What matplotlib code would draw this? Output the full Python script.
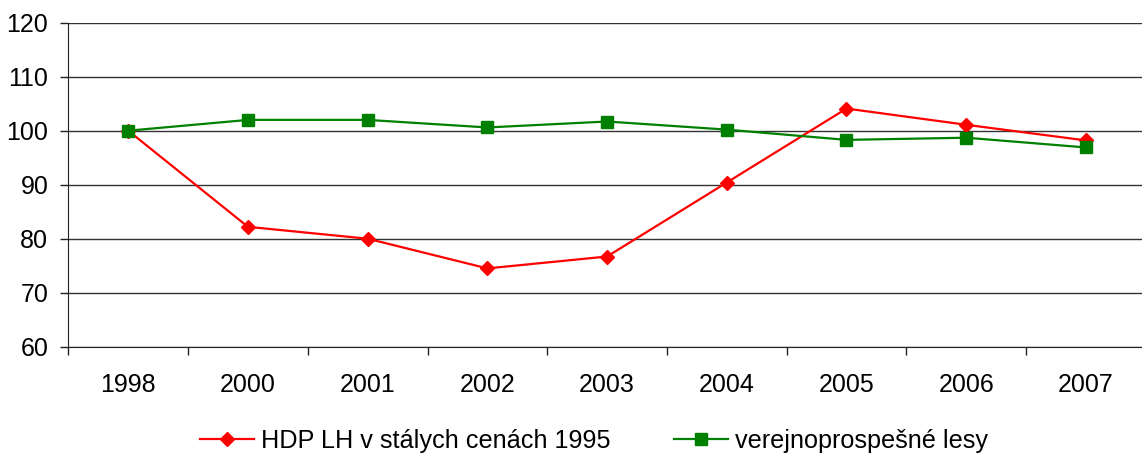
import matplotlib
matplotlib.use("Agg")
import matplotlib.pyplot as plt
import numpy as np

years = ["1998", "2000", "2001", "2002", "2003", "2004", "2005", "2006", "2007"]
hdp = [100.0, 82.2, 80.0, 74.5, 76.7, 90.4, 104.1, 101.1, 98.2]
lesy = [100.0, 102.0, 102.0, 100.6, 101.7, 100.2, 98.3, 98.7, 96.9]
hdp_label = "HDP LH v stálych cenách 1995"
lesy_label = "verejnoprospešné lesy"

plt.rcParams['font.family'] = ['Liberation Sans', 'DejaVu Sans']

W, H = 1142, 454
fig = plt.figure(figsize=(W / 100, H / 100), dpi=100)
left, right, top, bottom = 68.4, 1145.7, 22.7, 346.7
ax = fig.add_axes([left / W, (H - bottom) / H, (right - left) / W, (bottom - top) / H])

x = np.arange(len(years))
ax.plot(x, hdp, color="#ff0000", lw=1.6, marker="D", markersize=7, label=hdp_label, zorder=3)
ax.plot(x, lesy, color="#008000", lw=1.6, marker="s", markersize=8.5, label=lesy_label, zorder=4)

ax.set_xlim(-0.5, len(years) - 0.5)
ax.set_ylim(60, 120)
ax.set_yticks(np.arange(60, 121, 10))
ax.yaxis.grid(True, color="#333333", lw=1)
ax.set_axisbelow(True)

ax.set_xticks(x)
ax.set_xticklabels(years)
ax.set_xticks(np.arange(-0.5, len(years), 1), minor=True)
ax.tick_params(axis="x", which="major", length=0, pad=19, labelsize=18)
ax.tick_params(axis="x", which="minor", length=6, width=1, direction="out", color="#222222")
ax.tick_params(axis="y", length=6, width=1, direction="out", pad=8.5, labelsize=18, color="#222222")

for s in ["top", "right"]:
    ax.spines[s].set_visible(False)
ax.spines["left"].set_color("#222222")
ax.spines["bottom"].set_color("#222222")

fig.legend(loc="center", bbox_to_anchor=(594 / W, 1 - 441 / H), ncol=2, frameon=False,
           fontsize=18.2, handlelength=2.13, handletextpad=0.28, columnspacing=2.5)

fig.savefig("out.png", dpi=100)
